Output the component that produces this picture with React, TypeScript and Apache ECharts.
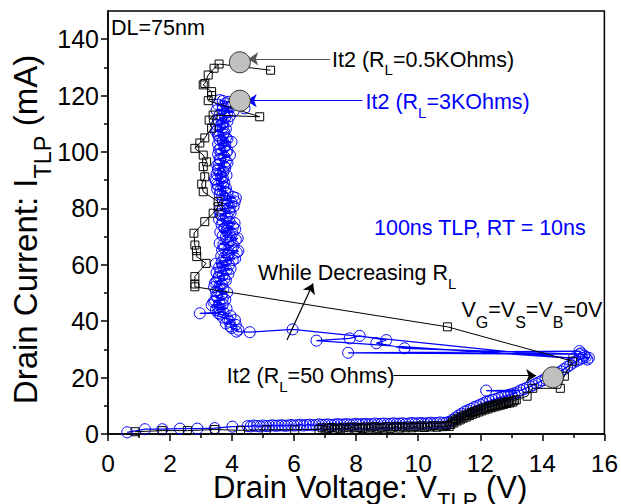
import React, { useEffect, useRef } from 'react';
import * as echarts from 'echarts';

// Black squares series (R_L = 0.5 kOhm)
const blackV = [0.87, 1.75, 2.56, 3.44, 4.27, 5.1, 6.02,
  6.8, 6.9, 7.0, 7.1, 7.2, 7.3, 7.4, 7.5, 7.6, 7.7, 7.8, 7.9, 8.0, 8.1, 8.2, 8.3, 8.4, 8.5, 8.6, 8.7, 8.8, 8.9, 9.0, 9.1, 9.2, 9.3, 9.4, 9.5, 9.6, 9.7, 9.8, 9.9, 10.0, 10.1, 10.2, 10.3, 10.4, 10.5, 10.6, 10.7, 10.8, 10.9, 11.0,
  11.05, 11.1, 11.15, 11.2, 11.25, 11.3, 11.35, 11.4, 11.45, 11.5, 11.55, 11.6, 11.65, 11.7, 11.75, 11.8, 11.85, 11.9, 11.95, 12.0, 12.05, 12.1, 12.15, 12.2, 12.25, 12.3, 12.35, 12.4, 12.45, 12.5, 12.55, 12.6, 12.65, 12.7, 12.75, 12.8, 12.85, 12.9, 12.95, 13.0, 13.05, 13.1, 13.16,
  13.51, 13.69, 14.58, 14.71, 14.98, 10.94,
  2.8, 2.8, 2.8, 3.16, 2.86, 2.85, 2.8, 2.77, 3.12, 3.39, 3.55, 3.55, 3.07, 3.02, 3.12, 3.07, 3.18, 3.07, 2.8, 2.96, 3.12, 3.34, 3.26, 3.39, 4.89, 3.23, 3.34, 3.34, 3.07, 3.12, 3.23, 3.42, 3.58, 5.24];
const blackI = [0.8, 1.2, 1.2, 1.6, 1.3, 1.5, 1.5,
  1.6, 2.2, 1.3, 2.0, 2.3, 1.5, 2.1, 1.8, 2.4, 1.6, 2.2, 2.5, 1.7, 2.3, 1.9, 2.5, 1.8, 2.4, 2.6, 1.9, 2.4, 2.1, 2.6, 2.0, 2.5, 2.7, 2.1, 2.6, 2.2, 2.8, 2.2, 2.7, 2.4, 2.9, 2.3, 2.8, 2.5, 3.0, 2.4, 2.9, 2.6, 3.0, 2.7,
  3.4, 4.3, 3.9, 5.0, 4.6, 5.6, 5.0, 6.1, 5.6, 6.6, 6.0, 7.1, 6.5, 7.6, 7.0, 8.0, 7.4, 8.4, 7.8, 8.8, 8.2, 9.2, 8.6, 9.5, 8.9, 9.8, 9.3, 10.1, 9.6, 10.4, 9.9, 10.7, 10.2, 11.0, 10.5, 11.2, 10.8, 11.5, 11.0, 11.7, 11.3, 12.0, 12.1,
  13.4, 16.2, 16.2, 20.5, 25.8, 38.0,
  52.2, 53.2, 55.8, 60.5, 62.9, 65.0, 67.0, 71.2, 75.3, 78.3, 80.6, 82.4, 85.9, 88.6, 91.2, 94.8, 96.5, 98.9, 101.3, 103.2, 105.0, 108.4, 111.3, 113.1, 112.5, 118.2, 120.0, 121.4, 123.8, 124.3, 127.3, 129.7, 131.2, 129.0];

// Blue circles series (R_L = 3 kOhm)
const blueV = [0.62, 1.19, 1.75, 2.32, 2.88, 3.44, 4.01,
  4.5, 4.6, 4.7, 4.8, 4.9, 5.0, 5.1, 5.2, 5.3, 5.4, 5.5, 5.6, 5.7, 5.8, 5.9, 6.0, 6.1, 6.2, 6.3, 6.4, 6.5, 6.6, 6.7, 6.8, 6.9, 7.0, 7.1, 7.2, 7.3, 7.4, 7.5, 7.6, 7.7, 7.8, 7.9, 8.0, 8.1, 8.2, 8.3, 8.4, 8.5, 8.6, 8.7, 8.8, 8.9, 9.0, 9.1, 9.2, 9.3, 9.4, 9.5, 9.6, 9.7, 9.8, 9.9, 10.0, 10.1, 10.2, 10.3, 10.4, 10.5, 10.6, 10.7, 10.8, 10.9, 11.0,
  11.1, 11.2, 11.3, 11.4, 11.5, 11.6, 11.7, 11.8, 11.9, 12.0, 12.1, 12.2, 12.3, 12.4, 12.5, 12.6, 12.7, 12.8, 12.9, 13.0, 13.1, 13.2, 12.19, 13.3, 13.4, 13.5, 13.6, 13.7, 13.8, 13.9, 14.0, 14.1, 14.2, 14.5, 14.6, 14.7, 14.8, 14.9, 15.0, 15.1, 15.2, 15.3, 15.4, 15.5, 15.45, 15.35, 15.25, 15.2,
  7.74, 15.2, 9.56, 8.65, 8.97, 8.11, 7.79, 6.72, 15.0, 5.95, 4.57, 4.14,
  4.2, 3.98, 3.95, 4.12, 3.8, 3.92, 4.09, 3.85, 3.7, 3.95, 3.62, 3.55, 2.96, 3.72, 3.6, 3.48, 3.82, 3.55, 3.34, 3.7, 3.6, 3.4, 3.45, 3.78, 3.7, 3.52, 3.5, 3.66, 3.84, 3.48, 3.55, 3.72, 3.42, 3.6, 3.68, 3.45, 3.5, 3.8, 3.75, 3.55, 3.58, 3.7, 3.88, 3.5, 3.62, 3.82, 3.95, 3.58, 3.7, 3.9, 3.48, 3.66, 3.8, 4.02, 4.1, 3.75, 3.65, 3.85, 3.9, 4.15, 4.2, 3.68, 3.75, 3.98, 4.05, 3.72, 3.6, 3.88, 3.95, 4.12, 4.18, 3.8, 3.7, 3.92, 4.0, 3.62, 3.82, 4.1, 3.75, 4.03, 3.85, 3.66, 4.08, 3.92, 3.7, 3.58, 3.8, 3.85, 3.65, 3.62, 3.95, 3.9, 3.6, 3.7, 3.92, 4.05, 3.85, 3.75, 3.98, 4.09, 3.7, 3.8, 4.12, 4.03, 3.68, 3.6, 3.85, 3.78, 3.62, 3.52, 3.8, 3.72, 3.55, 3.5, 3.75, 3.68, 3.48, 3.45, 3.7, 3.65, 3.82, 3.5, 3.62, 3.72, 3.55, 3.55, 3.78, 3.75, 3.52, 3.58, 3.85, 3.8, 3.62, 3.6, 3.75, 3.93, 3.55, 3.65, 3.82, 3.85, 3.58, 3.62, 3.75, 3.78, 3.55, 3.98, 3.7, 3.6, 3.85, 3.8, 3.58, 3.55, 3.72, 3.75, 3.48, 3.52, 3.8, 3.7, 3.6, 3.5, 3.68, 3.72, 3.85, 3.55, 3.65, 3.78, 3.92, 3.6, 3.75, 3.85, 4.05, 3.5, 3.7, 4.4, 3.95, 3.7, 3.55, 3.8, 3.87, 3.7, 3.6];
const blueI = [0.6, 1.7, 1.7, 1.9, 1.9, 2.1, 2.6,
  2.8, 2.7, 3.0, 2.8, 2.7, 3.0, 2.8, 2.9, 3.1, 2.9, 3.0, 3.1, 2.9, 3.0, 3.2, 3.0, 3.1, 3.3, 3.0, 3.2, 3.3, 3.1, 3.2, 3.4, 3.2, 3.3, 3.4, 3.2, 3.3, 3.5, 3.3, 3.4, 3.5, 3.3, 3.4, 3.6, 3.4, 3.5, 3.6, 3.4, 3.5, 3.7, 3.5, 3.6, 3.7, 3.5, 3.6, 3.8, 3.6, 3.7, 3.8, 3.6, 3.7, 3.9, 3.7, 3.8, 3.9, 3.7, 3.8, 4.0, 3.8, 3.9, 4.1, 3.9, 4.0, 4.3,
  5.0, 5.8, 6.6, 7.2, 7.9, 8.4, 8.9, 9.5, 9.9, 10.4, 10.9, 11.4, 11.7, 12.1, 12.4, 12.8, 13.1, 13.4, 13.8, 14.1, 14.4, 14.8, 15.4, 15.5, 15.9, 16.4, 16.8, 17.3, 17.9, 18.4, 19.0, 19.6, 20.2, 21.5, 22.2, 23.0, 23.8, 24.5, 25.3, 25.9, 26.4, 26.9, 27.3, 27.0, 26.4, 27.8, 28.6, 29.4,
  28.8, 28.3, 30.4, 32.2, 33.3, 34.8, 33.9, 33.1, 26.8, 37.1, 36.1, 36.3,
  37.0, 37.6, 38.2, 38.7, 39.2, 39.8, 40.4, 40.9, 41.3, 41.9, 42.4, 42.9, 42.8, 43.2, 43.6, 44.0, 44.5, 45.0, 45.7, 46.0, 46.3, 46.8, 47.2, 47.6, 48.1, 48.5, 49.0, 49.5, 50.2, 50.6, 51.0, 51.5, 52.1, 52.5, 53.0, 53.6, 54.1, 54.5, 55.0, 55.4, 55.9, 56.3, 56.8, 57.2, 57.7, 58.1, 58.6, 59.1, 59.6, 60.0, 60.4, 60.8, 61.3, 61.7, 62.2, 62.6, 63.1, 63.5, 64.0, 64.4, 64.9, 65.3, 65.8, 66.3, 66.8, 67.2, 67.6, 68.0, 68.5, 68.9, 69.4, 69.8, 70.3, 70.7, 71.2, 71.6, 72.1, 72.6, 73.0, 73.5, 73.9, 74.3, 74.8, 75.2, 75.6, 76.1, 76.5, 77.0, 77.5, 78.0, 78.4, 78.9, 79.3, 79.8, 80.2, 80.7, 81.1, 81.6, 82.0, 82.5, 82.9, 83.4, 83.7, 84.1, 84.6, 85.0, 85.4, 85.9, 86.3, 86.8, 87.2, 87.7, 88.1, 88.6, 89.0, 89.5, 89.9, 90.4, 90.8, 91.3, 91.7, 92.2, 92.6, 93.1, 93.5, 94.0, 94.4, 94.9, 95.3, 95.8, 96.2, 96.7, 97.1, 97.6, 98.2, 98.9, 99.2, 99.5, 100.0, 100.4, 100.8, 101.3, 101.7, 102.2, 102.8, 103.6, 103.9, 104.2, 104.6, 105.1, 105.5, 106.0, 106.4, 106.9, 107.3, 107.8, 108.2, 108.7, 109.1, 109.6, 110.0, 110.5, 110.9, 111.4, 111.8, 112.3, 112.7, 113.2, 113.6, 114.1, 114.5, 114.8, 115.2, 115.5, 115.9, 116.2, 116.8, 117.3, 117.8, 118.1, 118.4];

// It2 markers (grey circles)
const it2V = [4.25, 4.25, 14.34];
const it2I = [131.8, 118.2, 20.1];

// Annotation arrows, in data units
const arrowFromV = [7.15, 8.2, 9.2, 5.77];
const arrowFromI = [133.0, 118.2, 20.7, 33.3];
const arrowToV = [4.52, 4.47, 13.8, 6.61];
const arrowToI = [133.0, 118.2, 20.7, 53.4];
const arrowColors = ['#555555', '#0000ff', '#000000', '#000000'];

// Ticks
const xMajor = [0, 2, 4, 6, 8, 10, 12, 14, 16];
const xMinor = [1, 3, 5, 7, 9, 11, 13, 15];
const yMajor = [0, 20, 40, 60, 80, 100, 120, 140];
const yMinor = [10, 30, 50, 70, 90, 110, 130];

const FONT = "'Liberation Sans', Arial, Helvetica, sans-serif";

function measure(text: string, size: number): number {
  const ctx = document.createElement('canvas').getContext('2d');
  if (!ctx) return text.length * size * 0.55;
  ctx.font = `${size}px ${FONT}`;
  return ctx.measureText(text).width;
}

export default function App() {
  const ref = useRef<HTMLDivElement>(null);
  useEffect(() => {
    const chart = echarts.init(ref.current!, null, { renderer: 'svg' });
    const axisLine = { show: true, onZero: false, lineStyle: { color: '#000', width: 1.5 } };
    const tickStyle = { color: '#000', width: 1.5 };

    const txt = (text: string, x: number, y: number, fill: string, size: number, subSize: number, subPad: number) => ({
      type: 'text',
      x, y,
      silent: true,
      z: 100,
      style: {
        text,
        fill,
        fontSize: size,
        fontFamily: FONT,
        align: 'left',
        verticalAlign: 'middle',
        rich: {
          s: { fontSize: subSize, fontFamily: FONT, fill, padding: [subPad, 0, 0, 0] },
        },
      },
    });

    const plain = (text: string, x: number, y: number, size: number, rotation = 0) => ({
      type: 'text',
      x, y, rotation,
      silent: true,
      z: 100,
      style: {
        text, fill: '#000', fontSize: size, fontFamily: FONT,
        align: 'left', verticalAlign: 'middle', lineHeight: Math.round(size * 0.78),
      },
    });

    // X title: "Drain Voltage: V_TLP (V)"
    const xs = 31, xsub = 22;
    const xParts = ['Drain Voltage: V', 'TLP', ' (V)'];
    const xw = [measure(xParts[0], xs), measure(xParts[1], xsub), measure(xParts[2], xs)];
    const xLeft = 213, xMid = 487.5, xSubMid = 500;
    // Y title: "Drain Current: I_TLP (mA)"
    const ys = 33, ysub = 23.5;
    const yParts = ['Drain Current: I', 'TLP', ' (mA)'];
    const yw = [measure(yParts[0], ys), measure(yParts[1], ysub), measure(yParts[2], ys)];
    const yTot = yw[0] + yw[1] + yw[2];
    const yCenter = 229.5, yMidX = 25.5, ySubX = 42.5;
    const yStart = yCenter + yTot / 2;

    const bluePts = blueV.map((v, i) => [v, blueI[i]]);
    const blackPts = blackV.map((v, i) => [v, blackI[i]]);
    const it2Pts = it2V.map((v, i) => [v, it2I[i]]);
    const arrows = arrowFromV.map((v, i) => [
      { coord: [v, arrowFromI[i]], lineStyle: { color: arrowColors[i], width: 1.2, type: 'solid' } },
      { coord: [arrowToV[i], arrowToI[i]], lineStyle: { color: arrowColors[i], width: 1.2, type: 'solid' } },
    ]);

    chart.setOption({
      animation: false,
      grid: { left: 108, top: 11, right: 16, bottom: 70, show: true, borderColor: '#000', borderWidth: 1.5, backgroundColor: 'transparent' },
      xAxis: [
        {
          type: 'value', min: 0, max: 16, interval: 2,
          axisLine,
          axisTick: { show: true, length: 7, lineStyle: tickStyle, customValues: xMajor },
          axisLabel: { customValues: xMajor, fontSize: 24.5, lineHeight: 20, color: '#000', margin: 19, fontFamily: FONT },
          splitLine: { show: false },
        },
        {
          type: 'value', min: 0, max: 16, interval: 1, position: 'bottom',
          axisLine: { show: false },
          axisTick: { show: true, length: 4, lineStyle: tickStyle, customValues: xMinor },
          axisLabel: { show: false },
          splitLine: { show: false },
        },
      ],
      yAxis: [
        {
          type: 'value', min: 0, max: 150, interval: 10,
          axisLine,
          axisTick: { show: true, length: 7, lineStyle: tickStyle, customValues: yMajor },
          axisLabel: { customValues: yMajor, fontSize: 25, lineHeight: 20, color: '#000', margin: 9, fontFamily: FONT },
          splitLine: { show: false },
        },
        {
          type: 'value', min: 0, max: 150, interval: 10, position: 'left',
          axisLine: { show: false },
          axisTick: { show: true, length: 4, lineStyle: tickStyle, customValues: yMinor },
          axisLabel: { show: false },
          splitLine: { show: false },
        },
      ],
      series: [
        {
          type: 'line', data: bluePts, symbol: 'circle', symbolSize: 11, showSymbol: true, silent: true, z: 2,
          itemStyle: { color: 'rgba(0,0,0,0)', borderColor: '#0000ff', borderWidth: 1 },
          lineStyle: { color: '#0000ff', width: 1.3 },
        },
        {
          type: 'line', data: blackPts, symbol: 'rect', symbolSize: 8, showSymbol: true, silent: true, z: 3,
          itemStyle: { color: 'rgba(0,0,0,0)', borderColor: '#000', borderWidth: 1 },
          lineStyle: { color: '#000', width: 1 },
        },
        {
          type: 'scatter', data: it2Pts, symbol: 'circle', symbolSize: 21, silent: true, z: 5,
          itemStyle: { color: '#c0c0c0', borderColor: '#333', borderWidth: 1, opacity: 1 },
          markLine: {
            silent: true, symbol: ['none', 'arrow'], symbolSize: 10,
            label: { show: false }, emphasis: { disabled: true },
            data: arrows,
          },
        },
      ],
      graphic: [
        plain(xParts[0], xLeft, xMid, xs),
        plain(xParts[1], xLeft + xw[0], xSubMid, xsub),
        plain(xParts[2], xLeft + xw[0] + xw[1], xMid, xs),
        plain(yParts[0], yMidX, yStart, ys, Math.PI / 2),
        plain(yParts[1], ySubX, yStart - yw[0], ysub, Math.PI / 2),
        plain(yParts[2], yMidX, yStart - yw[0] - yw[1], ys, Math.PI / 2),
        txt('DL=75nm', 111, 27.8, '#000', 21.5, 15, 20),
        txt('It2 (R{s|L}=0.5KOhms)', 332, 59.5, '#000', 21.5, 15, 20),
        txt('It2 (R{s|L}=3KOhms)', 365.5, 102, '#0000ff', 21.5, 15, 20),
        txt('100ns TLP, RT = 10ns', 374, 228.3, '#0000ff', 21.5, 15, 20),
        txt('While Decreasing R{s|L}', 258, 273, '#000', 21.5, 15, 20),
        txt('V{s|G}=V{s|S}=V{s|B}=0V', 461.5, 310, '#000', 21.5, 16, 24),
        txt('It2 (R{s|L}=50 Ohms)', 226.7, 376, '#000', 21.5, 15, 20),
      ],
    });
    return () => chart.dispose();
  }, []);
  return <div ref={ref} style={{ position: 'fixed', left: 0, top: 0, width: 621, height: 504, background: '#fff' }} />;
}
